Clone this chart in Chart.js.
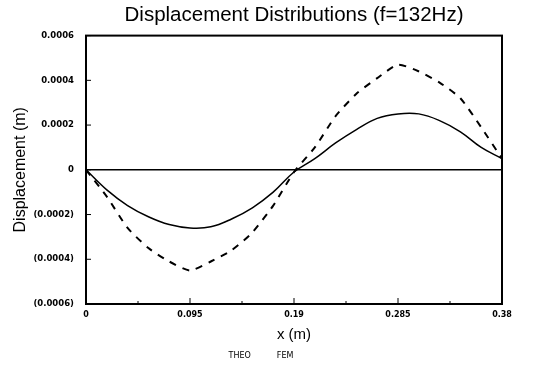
<!DOCTYPE html>
<html>
<head>
<meta charset="utf-8">
<script src="https://cdn.jsdelivr.net/npm/chart.js@4/dist/chart.umd.min.js"></script>
<style>
  html, body { margin: 0; padding: 0; background: #fff; }
  #wrap { width: 533px; height: 370px; }
</style>
</head>
<body>
<div id="wrap"><canvas id="chart"></canvas></div>
<script>
// Displacement distributions at f = 132 Hz

// x positions along the beam (m)
const xPositions = [0, 0.019, 0.038, 0.057, 0.076, 0.095, 0.114, 0.133, 0.152, 0.171, 0.19,
  0.209, 0.228, 0.247, 0.266, 0.285, 0.304, 0.323, 0.342, 0.361, 0.38];

// theoretical solution (solid)
const theoValues = [0, -0.00009, -0.00016, -0.00021, -0.000245, -0.00026, -0.000255, -0.00022,
  -0.00017, -0.0001, -0.00001, 0.00005, 0.00012, 0.00018, 0.00023, 0.00025, 0.00025,
  0.00022, 0.00017, 0.0001, 0.00005];

// finite element result (dashed)
const femValues = [0, -0.00012, -0.00026, -0.00035, -0.00041, -0.00045, -0.00041, -0.00036,
  -0.00028, -0.00016, -0.00001, 0.0001, 0.00024, 0.00034, 0.00041, 0.00047, 0.00044,
  0.00039, 0.00032, 0.00019, 0.00005];

// tick labels
const xTicks = [0, 0.095, 0.19, 0.285, 0.38];
const xTickLabels = ['0', '0.095', '0.19', '0.285', '0.38'];
const yTicks = [-0.0006, -0.0004, -0.0002, 0, 0.0002, 0.0004, 0.0006];
const yTickLabels = ['(0.0006)', '(0.0004)', '(0.0002)', '0', '0.0002', '0.0004', '0.0006'];

const seriesNames = ['THEO', 'FEM'];

function toPoints(values) {
  return xPositions.map((x, i) => ({ x: x, y: values[i] }));
}

// frame, zero line and inward tick marks
const framePlugin = {
  id: 'frame',
  afterDatasetsDraw(chart) {
    const ctx = chart.ctx;
    const area = chart.chartArea;
    const xs = chart.scales.x;
    const ys = chart.scales.y;
    ctx.save();
    ctx.strokeStyle = '#000';

    // zero line
    ctx.lineWidth = 1.5;
    const y0 = ys.getPixelForValue(0);
    ctx.beginPath();
    ctx.moveTo(area.left, y0);
    ctx.lineTo(area.right, y0);
    ctx.stroke();

    // inward ticks
    ctx.lineWidth = 1;
    ctx.beginPath();
    for (let i = 1; i < 8; i++) {
      const px = xs.getPixelForValue(i * 0.0475);
      const len = i % 2 === 0 ? 6 : 3;
      ctx.moveTo(px, area.bottom);
      ctx.lineTo(px, area.bottom - len);
    }
    yTicks.forEach(v => {
      const py = ys.getPixelForValue(v);
      ctx.moveTo(area.left, py);
      ctx.lineTo(area.left + 5, py);
    });
    ctx.stroke();

    // frame
    ctx.lineWidth = 2;
    ctx.strokeRect(area.left, area.top, area.right - area.left, area.bottom - area.top);
    ctx.restore();
  }
};

const ctx = document.getElementById('chart').getContext('2d');

new Chart(ctx, {
  type: 'scatter',
  data: {
    datasets: [
      {
        label: seriesNames[0],
        data: toPoints(theoValues),
        showLine: true,
        borderColor: '#000',
        borderWidth: 1.5,
        pointRadius: 0,
        tension: 0.4,
        fill: false
      },
      {
        label: seriesNames[1],
        data: toPoints(femValues),
        showLine: true,
        borderColor: '#000',
        borderWidth: 2,
        borderDash: [7, 7],
        pointRadius: 0,
        tension: 0.2,
        fill: false
      }
    ]
  },
  options: {
    responsive: true,
    maintainAspectRatio: false,
    animation: false,
    layout: {
      padding: { left: 0, right: 31, top: 0, bottom: 0 }
    },
    plugins: {
      title: {
        display: true,
        fullSize: false,
        text: 'Displacement Distributions (f=132Hz)',
        color: '#000',
        font: { family: 'Liberation Sans', size: 20.5, weight: 'normal' },
        padding: { top: 3, bottom: 8 }
      },
      legend: {
        display: true,
        position: 'bottom',
        labels: {
          color: '#000',
          font: { family: 'DejaVu Sans', size: 8 },
          boxWidth: 16,
          boxHeight: 0,
          padding: 6,
          generateLabels: chart => chart.data.datasets.map((ds, i) => ({
            text: ds.label,
            fillStyle: 'rgba(0,0,0,0)',
            strokeStyle: 'rgba(0,0,0,0)',
            lineWidth: 0,
            fontColor: '#000',
            datasetIndex: i
          }))
        }
      },
      tooltip: { enabled: false }
    },
    scales: {
      x: {
        type: 'linear',
        min: 0,
        max: 0.38,
        afterBuildTicks: scale => {
          scale.ticks = xTicks.map(v => ({ value: v }));
        },
        afterFit: scale => {
          scale.height = 42;
        },
        grid: { display: false, drawTicks: false },
        border: { display: false },
        ticks: {
          color: '#000',
          padding: 6,
          maxRotation: 0,
          font: { family: 'DejaVu Sans', size: 8, weight: 'bold' },
          callback: (v) => {
            const i = xTicks.findIndex(t => Math.abs(t - v) < 1e-9);
            return i >= 0 ? xTickLabels[i] : '';
          }
        },
        title: {
          display: true,
          text: 'x (m)',
          color: '#000',
          font: { family: 'Liberation Sans', size: 15 },
          padding: { top: 2, bottom: 2 }
        }
      },
      y: {
        type: 'linear',
        min: -0.0006,
        max: 0.0006,
        afterBuildTicks: scale => {
          scale.ticks = yTicks.map(v => ({ value: v }));
        },
        afterFit: scale => {
          scale.width = 86;
        },
        grid: { display: false, drawTicks: false },
        border: { display: false },
        ticks: {
          color: '#000',
          padding: 12,
          font: { family: 'DejaVu Sans', size: 8.5, weight: 'bold' },
          callback: (v) => {
            const i = yTicks.findIndex(t => Math.abs(t - v) < 1e-12);
            return i >= 0 ? yTickLabels[i] : '';
          }
        },
        title: {
          display: true,
          text: 'Displacement (m)',
          color: '#000',
          font: { family: 'Liberation Sans', size: 16 },
          padding: { top: 11, bottom: 4 }
        }
      }
    }
  },
  plugins: [framePlugin]
});
</script>
</body>
</html>
